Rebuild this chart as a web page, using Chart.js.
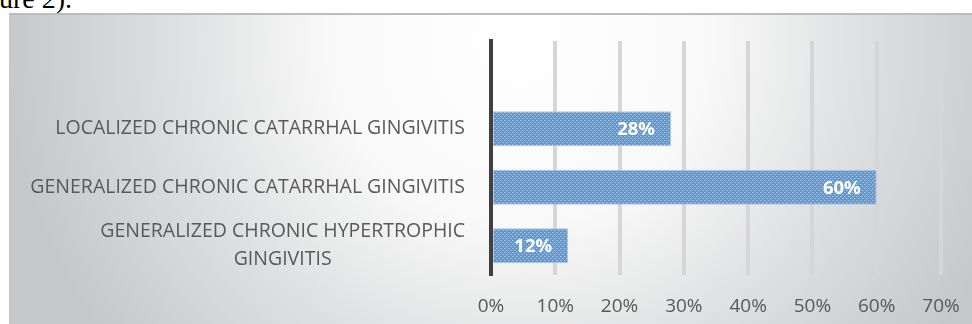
<!DOCTYPE html>
<html>
<head>
<meta charset="utf-8">
<script src="https://cdn.jsdelivr.net/npm/chart.js@4.4.1/dist/chart.umd.min.js"></script>
<style>
  html, body { margin: 0; padding: 0; background: #fff; overflow: hidden; }
  #page { position: relative; width: 972px; height: 324px; overflow: hidden; }
  #caption {
    position: absolute; left: -1px; top: -16px;
    font: 28px 'Liberation Serif', serif; line-height: 30px; color: #000;
  }
  #box {
    position: absolute; left: 9px; top: 13px; width: 963px; height: 311px;
    border-top: 2px solid #bcbdbf; box-sizing: border-box;
    background: radial-gradient(ellipse 540px 520px at 511px 27px,
      #ffffff 0%, #f9f9f9 35%, #e0e1e2 62%, #c6c7c9 96%);
  }
  #chart { position: absolute; left: 0; top: 0; }
</style>
</head>
<body>
<div id="page">
  <div id="caption">ure 2).</div>
  <div id="box"></div>
  <canvas id="chart" width="972" height="324"></canvas>
</div>
<script>
// data (top row is the empty slot Excel leaves above the first bar)
const categories = [
  '',
  'LOCALIZED CHRONIC CATARRHAL GINGIVITIS',
  'GENERALIZED CHRONIC CATARRHAL GINGIVITIS',
  ['GENERALIZED CHRONIC HYPERTROPHIC', 'GINGIVITIS']
];
const shares = [null, 28, 60, 12];
const axisMin = 0;
const axisMax = 70;
const axisStep = 10;

const FONT = "'Open Sans', sans-serif";
const TEXT = '#595959';

// dotted blue fill like the Excel pattern
function makePattern() {
  const p = document.createElement('canvas');
  p.width = 4; p.height = 4;
  const c = p.getContext('2d');
  c.fillStyle = '#6399d1';
  c.fillRect(0, 0, 4, 4);
  c.fillStyle = '#a6c6e8';
  c.fillRect(0, 0, 1, 1);
  c.fillRect(2, 2, 1, 1);
  c.fillStyle = '#7eabdb';
  c.fillRect(1, 0, 1, 1);
  c.fillRect(3, 2, 1, 1);
  return c.createPattern(p, 'repeat');
}

const categoryLabels = {
  id: 'categoryLabels',
  afterDraw(chart) {
    const s = chart.scales.y;
    const ctx = chart.ctx;
    ctx.save();
    ctx.font = '19.5px ' + FONT;
    ctx.fillStyle = TEXT;
    ctx.textAlign = 'center';
    ctx.textBaseline = 'middle';
    const lineH = 28;
    categories.forEach((lab, i) => {
      const lines = Array.isArray(lab) ? lab : [lab];
      if (!lines[0]) return;
      const y = s.getPixelForValue(i);
      const w = Math.max(...lines.map(l => ctx.measureText(l).width));
      const cx = s.right - 26 - w / 2;
      lines.forEach((l, k) => {
        ctx.fillText(l, cx, y + (k - (lines.length - 1) / 2) * lineH);
      });
    });
    ctx.restore();
  }
};

const valueLabels = {
  id: 'valueLabels',
  afterDatasetsDraw(chart) {
    const ctx = chart.ctx;
    const meta = chart.getDatasetMeta(0);
    ctx.save();
    ctx.font = 'bold 18.5px ' + FONT;
    ctx.fillStyle = '#ffffff';
    ctx.textAlign = 'right';
    ctx.textBaseline = 'middle';
    meta.data.forEach((bar, i) => {
      if (shares[i] == null) return;
      ctx.fillText(shares[i] + '%', bar.x - 16, bar.y + 1);
    });
    ctx.restore();
  }
};

const ctx = document.getElementById('chart').getContext('2d');
new Chart(ctx, {
  type: 'bar',
  data: {
    labels: categories,
    datasets: [{
      data: shares,
      backgroundColor: makePattern(),
      borderColor: '#a9c7e6',
      borderWidth: 1,
      borderSkipped: false,
      categoryPercentage: 1,
      barPercentage: 0.6
    }]
  },
  options: {
    indexAxis: 'y',
    responsive: false,
    animation: false,
    devicePixelRatio: 1,
    layout: { padding: { left: 0, right: 31, top: 41, bottom: 0 } },
    plugins: { legend: { display: false }, tooltip: { enabled: false } },
    scales: {
      x: {
        min: axisMin,
        max: axisMax,
        ticks: {
          stepSize: axisStep,
          padding: 20,
          color: TEXT,
          font: { family: FONT, size: 19 },
          callback: v => v + '%'
        },
        grid: { color: '#d6d6d8', lineWidth: 4, drawTicks: false },
        border: { display: false },
        afterFit: s => {
          s.height = 49;
          s.paddingLeft = 0;
          s.paddingRight = 0;
        }
      },
      y: {
        ticks: { display: false },
        grid: { display: false, drawTicks: false },
        border: { display: true, color: '#404040', width: 4 },
        afterFit: s => { s.width = 491; }
      }
    }
  },
  plugins: [categoryLabels, valueLabels]
});
</script>
</body>
</html>
